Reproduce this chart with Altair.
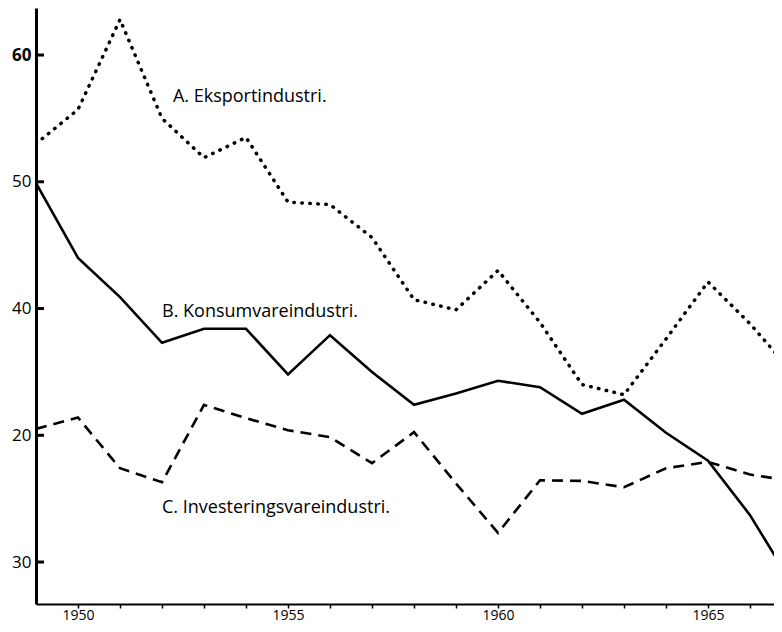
import altair as alt
import pandas as pd

years = list(range(1949, 1968))
eksport = [53.0, 55.7, 62.8, 55.0, 51.9, 53.5, 48.4, 48.2, 45.6, 40.7, 39.9, 43.0, 38.9, 34.0, 33.2, 37.6, 42.1, 38.8, 35.0]
konsum = [49.9, 44.0, 40.9, 37.3, 38.4, 38.4, 34.8, 37.9, 35.0, 32.4, 33.3, 34.3, 33.8, 31.7, 32.8, 30.2, 28.0, 23.7, 18.3]
invest = [30.5, 31.4, 27.4, 26.3, 32.4, 31.35, 30.4, 29.85, 27.8, 30.25, 26.2, 22.3, 26.45, 26.4, 25.9, 27.4, 27.9, 26.9, 26.4]

label_text = ["A. Eksportindustri.", "B. Konsumvareindustri.", "C. Investeringsvareindustri."]
label_year = [1952.26, 1952.0, 1952.0]
label_value = [56.7, 39.7, 24.26]

y_ticks = [60, 50, 40, 30, 20]
x_ticks = list(range(1950, 1967))

df = pd.DataFrame({"year": years, "A": eksport, "B": konsum, "C": invest})
lab = pd.DataFrame({"text": label_text, "year": label_year, "value": label_value})
yt = pd.DataFrame({"v": y_ticks})

xscale = alt.Scale(domain=[1949, 1966.571], nice=False, zero=False)
yscale = alt.Scale(domain=[16.69, 63.71], nice=False, zero=False)

xaxis = alt.Axis(values=x_ticks, format="d", grid=False, domainColor="black", domainWidth=2,
                 tickColor="black", tickWidth=1.5, tickSize=4,
                 labelExpr="datum.value % 5 == 0 ? datum.label : ''",
                 labelFont="Open Sans", labelFontSize=14, labelColor="black", labelPadding=0,
                 title=None)
yaxis = alt.Axis(values=y_ticks, grid=False, domainColor="black", domainWidth=3,
                 ticks=False, labelPadding=5,
                 labelExpr="datum.value == 30 ? '20' : (datum.value == 20 ? '30' : datum.label)",
                 labelFont="Open Sans", labelFontSize=17, labelColor="black",
                 labelFontWeight={"condition": {"test": "datum.value == 60", "value": "bold"}, "value": "normal"},
                 title=None)

base = alt.Chart(df)

lineA = base.mark_line(color="black", strokeWidth=3.5, strokeDash=[0.5, 7.5], strokeCap="round", clip=True).encode(
    x=alt.X("year:Q", scale=xscale, axis=xaxis),
    y=alt.Y("A:Q", scale=yscale, axis=yaxis),
)
lineB = base.mark_line(color="black", strokeWidth=2.6, clip=True).encode(
    x=alt.X("year:Q", scale=xscale),
    y=alt.Y("B:Q", scale=yscale),
)
lineC = base.mark_line(color="black", strokeWidth=2.6, strokeDash=[11, 7], clip=True).encode(
    x=alt.X("year:Q", scale=xscale),
    y=alt.Y("C:Q", scale=yscale),
)
ticks = alt.Chart(yt).mark_rule(color="black", strokeWidth=3).encode(
    x=alt.value(0), x2=alt.value(8),
    y=alt.Y("v:Q", scale=yscale),
)
texts = alt.Chart(lab).mark_text(align="left", baseline="middle", font="Open Sans", fontSize=18, color="black").encode(
    x=alt.X("year:Q", scale=xscale),
    y=alt.Y("value:Q", scale=yscale),
    text="text:N",
)

chart = alt.layer(lineA, lineB, lineC, ticks, texts).properties(
    width=738, height=596,
    background="white",
    autosize=alt.AutoSizeParams(type="none"),
    padding={"left": 28, "top": 0, "right": 0, "bottom": 20},
).configure_view(strokeWidth=0, stroke="transparent")

chart.save("out.html", embed_options={"renderer": "svg", "actions": False})
